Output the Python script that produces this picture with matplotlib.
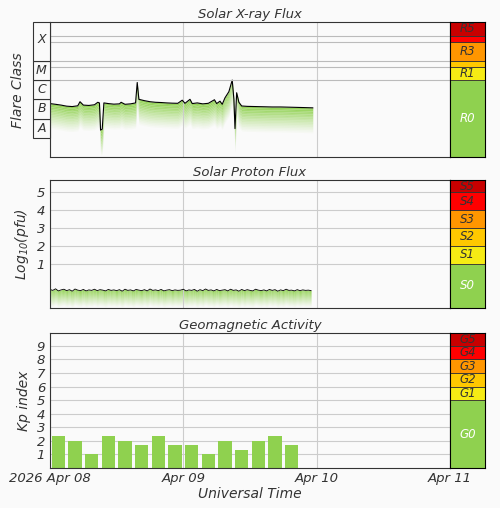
import numpy as np
import matplotlib.pyplot as plt
from matplotlib.patches import Rectangle
from matplotlib.ticker import NullLocator

# ---- data (time in hours from 2026 Apr 08 00:00 UT)
xray_hours = [0, 1, 2, 3, 4, 5, 5.4, 6, 7, 8, 8.6, 8.9, 9.1, 9.4, 9.7, 10.5, 11.5, 12.5, 12.8, 13.5,
              14.5, 15.4, 15.7, 16.0, 17, 18, 19, 20, 21, 22, 23, 23.8, 24.3, 25.2, 25.6, 26.5, 27.5,
              28.5, 29.6, 30.0, 30.6, 31.0, 31.5, 32.2, 32.8, 33.1, 33.3, 33.6, 34.0, 34.5, 35.5,
              37, 38.5, 40, 41.5, 43, 44.5, 46, 47.3]
xray_flux = [6.0e-7, 5.5e-7, 5.0e-7, 4.4e-7, 4.2e-7, 4.6e-7, 7.5e-7, 5.0e-7, 4.8e-7, 5.2e-7, 7.0e-7, 6.5e-7,
             2.5e-8, 2.8e-8, 6.5e-7, 6.0e-7, 5.6e-7, 5.8e-7, 7.0e-7, 5.5e-7,
             5.8e-7, 6.5e-7, 7.5e-6, 1.0e-6, 8.5e-7, 7.5e-7, 7.0e-7, 6.8e-7, 6.5e-7, 6.3e-7, 6.2e-7, 9.0e-7,
             6.2e-7, 1.0e-6, 6.0e-7, 6.5e-7, 5.8e-7, 6.2e-7, 9.5e-7, 6.0e-7, 8.0e-7, 5.5e-7, 1.2e-6, 2.5e-6,
             1.0e-5, 1.0e-6, 3.0e-8, 2.2e-6, 7.0e-7, 4.5e-7, 4.3e-7, 4.2e-7, 4.1e-7, 4.0e-7, 4.0e-7,
             3.9e-7, 3.8e-7, 3.7e-7, 3.6e-7]

proton_hours = [i * 0.5 for i in range(95)]
proton_pfu = [0.35, 0.31, 0.38, 0.29, 0.33, 0.36, 0.30, 0.34, 0.28, 0.37, 0.32, 0.30, 0.35, 0.29, 0.33, 0.31,
              0.36, 0.30, 0.34, 0.32, 0.29, 0.35, 0.31, 0.33, 0.30, 0.34, 0.28, 0.36, 0.31, 0.33, 0.29, 0.35,
              0.32, 0.30, 0.34, 0.29, 0.37, 0.31, 0.33, 0.30, 0.35, 0.29, 0.32, 0.34, 0.30, 0.33, 0.31, 0.32,
              0.36, 0.29, 0.33, 0.31, 0.35, 0.28, 0.34, 0.30, 0.37, 0.31, 0.33, 0.29, 0.35, 0.30, 0.32, 0.34,
              0.29, 0.36, 0.31, 0.33, 0.28, 0.35, 0.30, 0.34, 0.31, 0.29, 0.36, 0.32, 0.30, 0.33, 0.29, 0.35,
              0.31, 0.34, 0.28, 0.33, 0.30, 0.36, 0.31, 0.32, 0.29, 0.34, 0.30, 0.33, 0.31, 0.32, 0.30]

kp_hours = [i * 3 for i in range(15)]
kp_values = [2.33, 2.0, 1.0, 2.33, 2.0, 1.67, 2.33, 1.67, 1.67, 1.0, 2.0, 1.33, 2.0, 2.33, 1.67]

day_ticks = [0, 1, 2, 3]
day_labels = ['2026 Apr 08', 'Apr 09', 'Apr 10', 'Apr 11']

GREEN = '#8fd14f'
scale_cols = ['#f6eb14', '#ffc800', '#ff9600', '#ff0000', '#c80000']
TXT = '#333333'
BG = '#fafafa'

plt.rcParams.update({'font.family': 'DejaVu Sans', 'font.style': 'italic', 'text.color': TXT,
                     'axes.labelcolor': TXT, 'xtick.color': TXT, 'ytick.color': TXT})

fig = plt.figure(figsize=(5, 5.08), dpi=100, facecolor=BG)


def panel(top, bot):
    ax = fig.add_axes([0.1, 1 - bot / 508, 0.8, (bot - top) / 508])
    sx = fig.add_axes([0.9, 1 - bot / 508, 0.07, (bot - top) / 508])
    ax.set_xlim(0, 3)
    ax.set_xticks(day_ticks)
    ax.set_xticklabels([])
    ax.tick_params(length=0)
    ax.grid(axis='x', color='#cccccc', lw=0.8)
    sx.set_xlim(0, 1)
    return ax, sx


def fade_fill(ax, x, y, lo_fn, n=16):
    for i in range(n):
        a = lo_fn(y, i / n)
        b = lo_fn(y, (i + 1) / n)
        ax.fill_between(x, a, b, color=GREEN, alpha=0.95 * (1 - i / n) ** 1.2, lw=0)


def band_labels(sx, edges, names, log=False):
    cols = [GREEN] + scale_cols
    for i in range(len(names)):
        lo, hi = edges[i], edges[i + 1]
        sx.add_patch(Rectangle((0, lo), 1, hi - lo, color=cols[i], ec='#333333', lw=0.6))
        if names[i]:
            mid = np.sqrt(lo * hi) if log else (lo + hi) / 2
            sx.text(0.5, mid, names[i], ha='center', va='center', fontsize=8.5,
                    color='white' if i == 0 else TXT)
    sx.xaxis.set_major_locator(NullLocator())
    sx.yaxis.set_major_locator(NullLocator())
    sx.yaxis.set_minor_locator(NullLocator())


# ---- X-ray
x = np.array(xray_hours) / 24
ax1, sx1 = panel(22, 157)
ax1.set_yscale('log')
ax1.set_ylim(1e-9, 1.05e-2)
fade_fill(ax1, x, np.array(xray_flux), lambda y, f: y / 10 ** (f * 1.3))
ax1.plot(x, xray_flux, color='black', lw=0.8)
for lv in [1e-5, 5e-5, 1e-4, 1e-3, 2e-3]:
    ax1.axhline(lv, color='#bbbbbb', lw=0.8)
ax1.yaxis.set_major_locator(NullLocator())
ax1.yaxis.set_minor_locator(NullLocator())
ax1.set_title('Solar X-ray Flux', fontsize=9.5, pad=3)
sx1.set_yscale('log')
sx1.set_ylim(1e-9, 1.05e-2)
band_labels(sx1, [1e-9, 1e-5, 5e-5, 1e-4, 1e-3, 2e-3, 1.05e-2], ['R0', 'R1', '', 'R3', '', 'R5'], log=True)
# flare class boxes
lx = fig.add_axes([33 / 500, 1 - 157 / 508, 17 / 500, 135 / 508])
lx.set_yscale('log')
lx.set_ylim(1e-9, 1.05e-2)
lx.set_xlim(0, 1)
lx.axis('off')
for lo, name in [(1e-8, 'A'), (1e-7, 'B'), (1e-6, 'C'), (1e-5, 'M'), (1e-4, 'X')]:
    hi = 1.05e-2 if name == 'X' else lo * 10
    lx.add_patch(Rectangle((0, lo), 1, hi - lo, fc=BG, ec='#333333', lw=0.8, clip_on=False))
    mid = 1.3e-3 if name == 'X' else np.sqrt(lo * hi)
    lx.text(0.5, mid, name, ha='center', va='center', fontsize=9)
fig.text(0.036, 1 - 90 / 508, 'Flare Class', rotation=90, ha='center', va='center', fontsize=10)

# ---- protons
xp = np.array(proton_hours) / 24
lp = np.log10(proton_pfu)
ax2, sx2 = panel(180, 308)
ax2.set_ylim(-1.5, 5.7)
fade_fill(ax2, xp, lp, lambda y, f: y - f * 0.9)
ax2.plot(xp, lp, color='black', lw=0.6)
ax2.set_yticks([1, 2, 3, 4, 5])
ax2.tick_params(axis='y', labelsize=9.5)
ax2.grid(axis='y', color='#cccccc', lw=0.8)
ax2.set_ylabel(r'Log$_{10}$(pfu)', fontsize=10)
ax2.set_title('Solar Proton Flux', fontsize=9.5, pad=3)
sx2.set_ylim(-1.5, 5.7)
band_labels(sx2, [-1.5, 1, 2, 3, 4, 5, 5.7], ['S0', 'S1', 'S2', 'S3', 'S4', 'S5'])

# ---- Kp
ax3, sx3 = panel(333, 468)
ax3.set_ylim(0, 9.95)
ax3.bar(np.array(kp_hours) / 24 + 1.5 / 24, kp_values, width=2.4 / 24, color=GREEN, zorder=2)
ax3.set_yticks(range(1, 10))
ax3.tick_params(axis='y', labelsize=9.5)
ax3.grid(axis='y', color='#cccccc', lw=0.8)
ax3.set_ylabel('Kp index', fontsize=10)
ax3.set_title('Geomagnetic Activity', fontsize=9.5, pad=3)
ax3.set_xticklabels(day_labels, fontsize=9.5)
ax3.tick_params(axis='x', pad=3)
ax3.set_xlabel('Universal Time', fontsize=10, labelpad=1)
sx3.set_ylim(0, 9.95)
band_labels(sx3, [0, 5, 6, 7, 8, 9, 9.95], ['G0', 'G1', 'G2', 'G3', 'G4', 'G5'])

for a in [ax1, ax2, ax3]:
    a.set_facecolor(BG)
    for s in a.spines.values():
        s.set_color('#333333')

fig.savefig('out.png', dpi=100, facecolor=BG)
